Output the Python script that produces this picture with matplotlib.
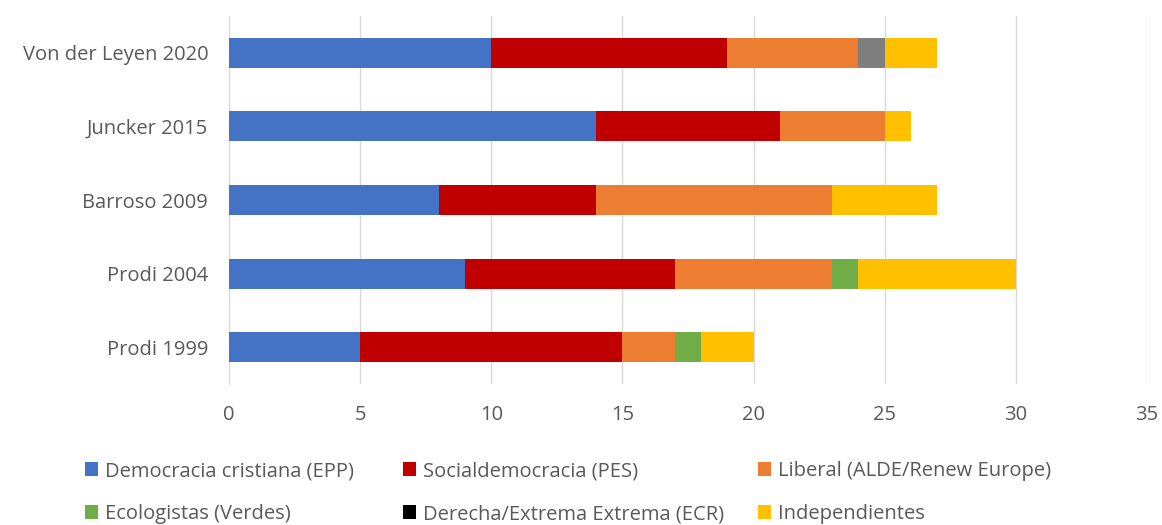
import matplotlib.pyplot as plt
import numpy as np

plt.rcParams['font.family'] = ['Open Sans', 'DejaVu Sans']

# data
presidencias = ["Prodi 1999", "Prodi 2004", "Barroso 2009", "Juncker 2015", "Von der Leyen 2020"]
epp = [5, 9, 8, 14, 10]
pes = [10, 8, 6, 7, 9]
alde = [2, 6, 9, 4, 5]
verdes = [1, 1, 0, 0, 0]
ecr = [0, 0, 0, 0, 0]
otros = [0, 0, 0, 0, 1]
indep = [2, 6, 4, 1, 2]

series = [
    ("Democracia cristiana (EPP)", epp, "#4472C4"),
    ("Socialdemocracia (PES)", pes, "#C00000"),
    ("Liberal (ALDE/Renew Europe)", alde, "#ED7D31"),
    ("Ecologistas (Verdes)", verdes, "#70AD47"),
    ("Derecha/Extrema Extrema (ECR)", ecr, "#000000"),
    ("_otros", otros, "#7F7F7F"),
    ("Independientes", indep, "#FFC000"),
]

fig = plt.figure(figsize=(11.62, 5.25), dpi=100)
ax = fig.add_axes([229/1162, 1 - 384/525, 918/1162, 368/525])

y = np.arange(len(presidencias))
left = np.zeros(len(presidencias))
handles = {}
for name, vals, col in series:
    b = ax.barh(y, vals, left=left, height=0.41, color=col, label=name, zorder=3)
    handles[name] = b
    left += np.array(vals)

ax.set_xlim(0, 35)
ax.set_ylim(-0.5, 4.5)
ax.set_xticks(np.arange(0, 36, 5))
ax.set_yticks(y)
ax.set_yticklabels(presidencias)
ax.grid(axis="x", color="#D9D9D9", linewidth=1, zorder=0)
for s in ["top", "right", "bottom"]:
    ax.spines[s].set_visible(False)
ax.spines["left"].set_color("#D9D9D9")
ax.tick_params(length=0, labelsize=14.5, colors="#595959")
ax.tick_params(axis="y", pad=15)
ax.tick_params(axis="x", pad=15)

# legend: three columns placed like the original
columns = [
    (["Democracia cristiana (EPP)", "Ecologistas (Verdes)"], 75),
    (["Socialdemocracia (PES)", "Derecha/Extrema Extrema (ECR)"], 393),
    (["Liberal (ALDE/Renew Europe)", "Independientes"], 748),
]
for names, xpix in columns:
    leg = fig.legend([handles[n] for n in names], names, ncol=1,
                     loc="upper left", bbox_to_anchor=(xpix/1162, 1 - 451/525),
                     frameon=False, fontsize=14.5, handlelength=0.65, handleheight=0.65,
                     handletextpad=0.35, labelspacing=1.15, borderpad=0)
    for t in leg.get_texts():
        t.set_color("#595959")

fig.savefig("out.png", dpi=100)
